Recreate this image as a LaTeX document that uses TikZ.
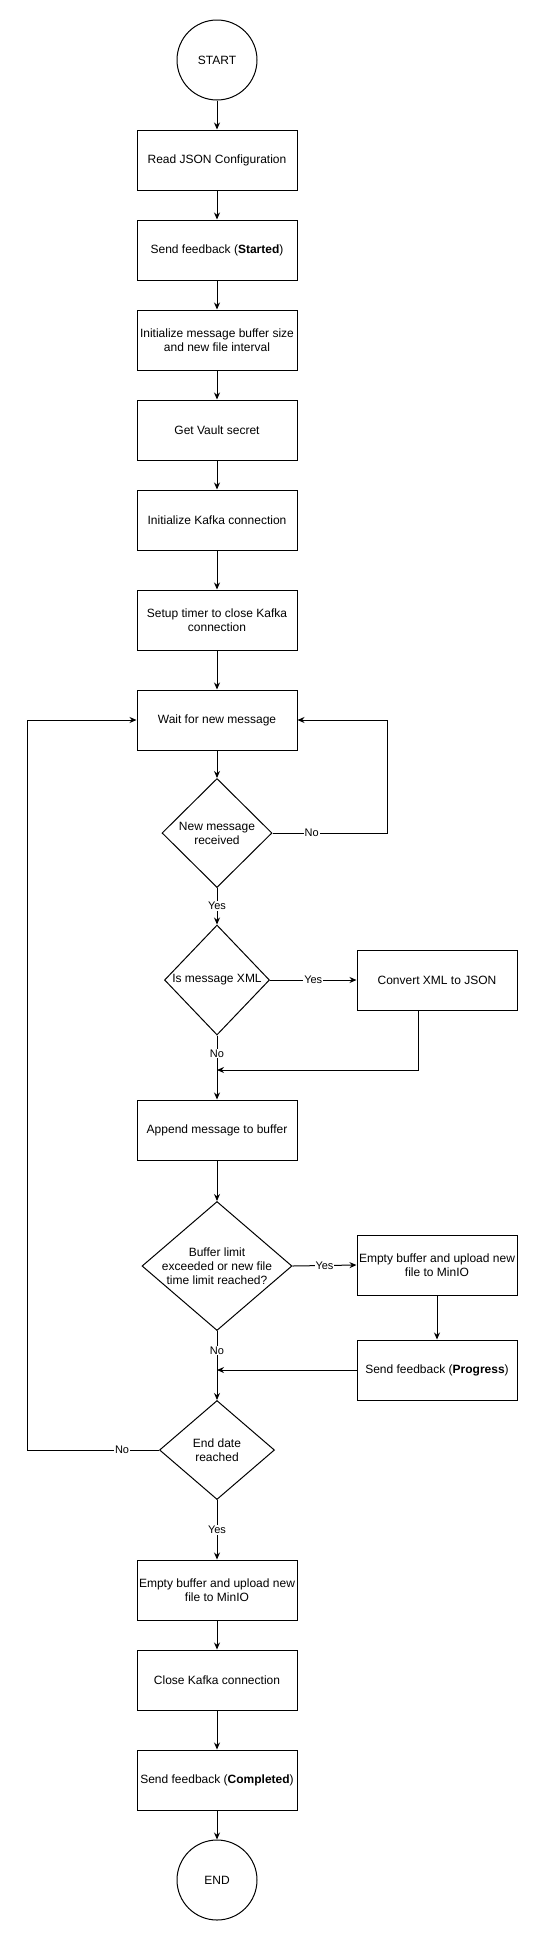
\documentclass[tikz,border=0pt]{standalone}
\usepackage{fontspec}
\setmainfont{Liberation Sans}
\usetikzlibrary{shapes.geometric,arrows.meta}
\begin{document}
\begin{tikzpicture}[x=1pt,y=-1pt,
  box/.style={draw,fill=white,line width=1pt,minimum width=160pt,minimum height=60pt,inner sep=1pt,align=center,font=\fontsize{12}{14}\selectfont},
  term/.style={draw,circle,fill=white,line width=1pt,minimum size=80pt,inner sep=0pt,font=\fontsize{12}{14}\selectfont},
  dia/.style={draw,diamond,fill=white,line width=1pt,inner sep=0pt},
  txt/.style={align=center,font=\fontsize{12}{14}\selectfont,inner sep=0pt},
  arr/.style={line width=1pt,-{Stealth[length=7pt,width=6pt]}},
  ln/.style={line width=1pt},
  lbl/.style={fill=white,inner sep=1pt,font=\fontsize{11}{13}\selectfont}]
\useasboundingbox[fill=white] (0,0) rectangle (538,1941);
% nodes
\node[term] (start) at (217,60) {START};
\node[box] (b1) at (217,160) {Read JSON Configuration};
\node[box] (b2) at (217,250) {Send feedback (\textbf{Started})};
\node[box] (b3) at (217,340) {Initialize message buffer size\\and new file interval};
\node[box] (b4) at (217,430) {Get Vault secret};
\node[box] (b5) at (217,520) {Initialize Kafka connection};
\node[box] (b6) at (217,620) {Setup timer to close Kafka\\connection};
\node[box] (wait) at (217,720) {Wait for new message};
\node[dia,minimum width=110pt,minimum height=109pt] (d1) at (217,833) {};
\node[txt] (d1t) at (d1) {New message\\received};
\node[dia,minimum width=105pt,minimum height=110pt] (d2) at (217,980) {};
\node[txt] (d2t) at (d2) {Is message XML};
\node[box] (conv) at (437,980) {Convert XML to JSON};
\node[box] (append) at (217,1130) {Append message to buffer};
\node[dia,minimum width=150pt,minimum height=129pt] (d3) at (217,1266) {};
\node[txt] (d3t) at (d3) {Buffer limit\\exceeded or new file\\time limit reached?};
\node[box] (up1) at (437,1265) {Empty buffer and upload new\\file to MinIO};
\node[box] (prog) at (437,1370) {Send feedback (\textbf{Progress})};
\node[dia,minimum width=115pt,minimum height=99pt] (d4) at (217,1450) {};
\node[txt] (d4t) at (d4) {End date\\reached};
\node[box] (up2) at (217,1590) {Empty buffer and upload new\\file to MinIO};
\node[box] (close) at (217,1680) {Close Kafka connection};
\node[box] (done) at (217,1780) {Send feedback (\textbf{Completed})};
\node[term] (end) at (217,1880) {END};
\coordinate (j1) at (217,1070);
\coordinate (j2) at (217,1370);
% connectors
\draw[arr] (start) -- (b1);
\draw[arr] (b1) -- (b2);
\draw[arr] (b2) -- (b3);
\draw[arr] (b3) -- (b4);
\draw[arr] (b4) -- (b5);
\draw[arr] (b5) -- (b6);
\draw[arr] (b6) -- (wait);
\draw[arr] (wait) -- (d1.north);
\draw[ln] (d1.east) -- node[lbl,pos=0.34]{No} ++(115,0) coordinate (r1);
\draw[arr] (r1) |- (wait.east);
\draw[arr] (d1.south) -- node[lbl,pos=0.5]{Yes} (d2.north);
\draw[arr] (d2.east) -- node[lbl,pos=0.5]{Yes} (conv.west);
\draw[arr] ([xshift=-19pt]conv.south) |- (j1);
\draw[arr] (d2.south) -- node[lbl,pos=0.28]{No} (append.north);
\draw[arr] (append) -- (d3.north);
\draw[arr] (d3.east) -- node[lbl,pos=0.5]{Yes} (up1.west);
\draw[arr] (up1) -- (prog);
\draw[arr] (prog.west) -- (j2);
\draw[arr] (d3.south) -- node[lbl,pos=0.28]{No} (d4.north);
\draw[ln] (d4.west) -- node[lbl,pos=0.28]{No} ++(-132,0) coordinate (l1);
\draw[arr] (l1) |- (wait.west);
\draw[arr] (d4.south) -- node[lbl,pos=0.5]{Yes} (up2.north);
\draw[arr] (up2) -- (close);
\draw[arr] (close) -- (done);
\draw[arr] (done) -- (end);
\end{tikzpicture}
\end{document}
